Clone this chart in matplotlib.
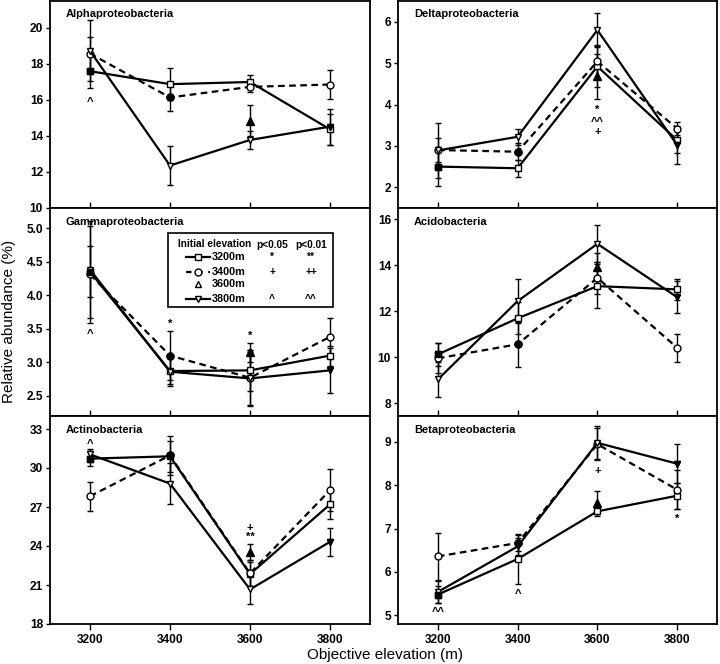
import matplotlib
matplotlib.use("Agg")
import matplotlib.pyplot as plt
from matplotlib.patches import Rectangle

plt.rcParams["font.family"] = ["Liberation Sans", "DejaVu Sans"]

elev = [3200, 3400, 3600, 3800]

# mean / error per panel; series are by initial elevation
alpha_3200 = [17.6, 16.88, 17.0, 14.37]
alpha_3200_err = [0.95, 0.9, 0.4, 0.85]
alpha_3400 = [18.58, 16.14, 16.73, 16.86]
alpha_3400_err = [0.9, 0.75, 0.3, 0.8]
alpha_3600 = 14.85
alpha_3600_err = 0.85
alpha_3800 = [18.73, 12.36, 13.78, 14.52]
alpha_3800_err = [1.7, 1.1, 0.5, 1.0]

delta_3200 = [2.5, 2.46, 4.92, 3.14]
delta_3200_err = [0.48, 0.2, 0.5, 0.3]
delta_3400 = [2.9, 2.86, 5.04, 3.42]
delta_3400_err = [0.3, 0.2, 0.4, 0.15]
delta_3600 = 4.68
delta_3600_err = 0.55
delta_3800 = [2.89, 3.22, 5.8, 3.02]
delta_3800_err = [0.67, 0.2, 0.42, 0.45]

gamma_3200 = [4.35, 2.87, 2.88, 3.10]
gamma_3200_err = [0.38, 0.2, 0.3, 0.15]
gamma_3400 = [4.31, 3.10, 2.77, 3.38]
gamma_3400_err = [0.72, 0.36, 0.42, 0.28]
gamma_3600 = 3.15
gamma_3600_err = 0.14
gamma_3800 = [4.38, 2.86, 2.76, 2.88]
gamma_3800_err = [0.72, 0.22, 0.4, 0.34]

acido_3200 = [10.13, 11.7, 13.1, 12.96]
acido_3200_err = [0.5, 0.7, 0.95, 0.45]
acido_3400 = [9.96, 10.57, 13.46, 10.42]
acido_3400_err = [0.65, 0.97, 0.7, 0.6]
acido_3600 = 13.94
acido_3600_err = 0.6
acido_3800 = [9.04, 12.45, 14.94, 12.62]
acido_3800_err = [0.75, 0.97, 0.8, 0.7]

actino_3200 = [30.72, 30.9, 21.84, 27.2]
actino_3200_err = [0.6, 1.2, 0.9, 1.1]
actino_3400 = [27.83, 30.97, 21.9, 28.29]
actino_3400_err = [1.1, 1.5, 1.0, 1.6]
actino_3600 = 23.55
actino_3600_err = 0.6
actino_3800 = [31.05, 28.8, 20.66, 24.32]
actino_3800_err = [0.4, 1.6, 1.1, 1.1]

beta_3200 = [5.48, 6.3, 7.4, 7.76]
beta_3200_err = [0.2, 0.58, 0.1, 0.3]
beta_3400 = [6.36, 6.67, 8.95, 7.9]
beta_3400_err = [0.55, 0.18, 0.37, 0.45]
beta_3600 = 7.6
beta_3600_err = 0.27
beta_3800 = [5.54, 6.59, 8.98, 8.5]
beta_3800_err = [0.25, 0.2, 0.38, 0.45]

# significance marks (x, y, text)
alpha_sig = [(3200, 15.9, "^")]
delta_sig = [(3600, 3.86, "*"), (3600, 3.58, "^^"), (3600, 3.34, "+")]
gamma_sig = [(3200, 3.42, "^"), (3400, 3.58, "*"), (3600, 3.40, "*")]
acido_sig = []
actino_sig = [(3200, 31.85, "^"), (3600, 25.4, "+"), (3600, 24.7, "**")]
beta_sig = [(3200, 5.07, "^^"), (3400, 5.5, "^"), (3600, 8.33, "+"), (3800, 7.22, "*")]

names = ["Alphaproteobacteria", "Deltaproteobacteria", "Gammaproteobacteria",
         "Acidobacteria", "Actinobacteria", "Betaproteobacteria"]
ylims = [(10, 21.5), (1.5, 6.5), (2.2, 5.3), (7.45, 16.5), (18, 34), (4.8, 9.6)]
yticks = [[10, 12, 14, 16, 18, 20], [2, 3, 4, 5, 6], [2.5, 3.0, 3.5, 4.0, 4.5, 5.0],
          [8, 10, 12, 14, 16], [18, 21, 24, 27, 30, 33], [5, 6, 7, 8, 9]]

panels = [
    (alpha_3200, alpha_3200_err, alpha_3400, alpha_3400_err, alpha_3600, alpha_3600_err, alpha_3800, alpha_3800_err, alpha_sig),
    (delta_3200, delta_3200_err, delta_3400, delta_3400_err, delta_3600, delta_3600_err, delta_3800, delta_3800_err, delta_sig),
    (gamma_3200, gamma_3200_err, gamma_3400, gamma_3400_err, gamma_3600, gamma_3600_err, gamma_3800, gamma_3800_err, gamma_sig),
    (acido_3200, acido_3200_err, acido_3400, acido_3400_err, acido_3600, acido_3600_err, acido_3800, acido_3800_err, acido_sig),
    (actino_3200, actino_3200_err, actino_3400, actino_3400_err, actino_3600, actino_3600_err, actino_3800, actino_3800_err, actino_sig),
    (beta_3200, beta_3200_err, beta_3400, beta_3400_err, beta_3600, beta_3600_err, beta_3800, beta_3800_err, beta_sig),
]

LW = 1.6
MS = 5


def series(ax, y, err, marker, ls, home):
    ax.errorbar(elev, y, yerr=err, fmt="none", ecolor="black", elinewidth=1,
                capsize=2.5, capthick=1, zorder=2)
    ax.plot(elev, y, color="black", lw=LW, ls=ls, marker=marker, ms=MS,
            mfc="white", mec="black", mew=1, zorder=3)
    i = elev.index(home)
    ax.plot([elev[i]], [y[i]], marker=marker, ms=MS, mfc="black", mec="black",
            ls="none", zorder=4)


def draw_legend(ax):
    t = ax.transAxes
    ax.add_patch(Rectangle((0.369, 0.524), 0.515, 0.356, transform=t, fill=False,
                           lw=1.2, ec="black", zorder=10))
    fs = 7.3
    ax.text(0.40, 0.827, "Initial elevation", transform=t, fontsize=fs, weight="bold", va="center", zorder=11)
    ax.text(0.694, 0.822, "p<0.05", transform=t, fontsize=fs, weight="bold", va="center", ha="center", zorder=11)
    ax.text(0.816, 0.822, "p<0.01", transform=t, fontsize=fs, weight="bold", va="center", ha="center", zorder=11)
    rows = [(0.764, "s", "-", "3200m", "*", "**"),
            (0.692, "o", (0, (2.5, 2.5)), "3400m", "+", "++"),
            (0.635, "^", "none", "3600m", "", ""),
            (0.5625, "v", "-", "3800m", "^", "^^")]
    for y, m, ls, lab, s1, s2 in rows:
        if ls != "none":
            ax.plot([0.425, 0.5], [y, y], transform=t, color="black", lw=LW, ls=ls,
                    clip_on=False, zorder=11)
        ax.plot([0.4625], [y], transform=t, marker=m, ms=MS, mfc="white", mec="black",
                mew=1, ls="none", clip_on=False, zorder=12)
        ax.text(0.506, y, lab, transform=t, fontsize=fs + 0.5, weight="bold", va="center", zorder=11)
        ax.text(0.694, y, s1, transform=t, fontsize=fs, weight="bold", va="center", ha="center", zorder=11)
        ax.text(0.816, y, s2, transform=t, fontsize=fs, weight="bold", va="center", ha="center", zorder=11)


fig = plt.figure(figsize=(7.2, 6.64), dpi=100)

lefts = [50 / 720, 398 / 720]
widths = [320 / 720, 319 / 720]
bottoms = [1 - 208 / 664, 1 - 416 / 664, 1 - 624 / 664]
heights = [207 / 664, 208 / 664, 208 / 664]

for k in range(6):
    row, col = k // 2, k % 2
    ax = fig.add_axes([lefts[col], bottoms[row], widths[col], heights[row]])
    s32, e32, s34, e34, s36, e36, s38, e38, sig = panels[k]

    series(ax, s32, e32, "s", "-", 3200)
    series(ax, s34, e34, "o", (0, (3, 2)), 3400)
    ax.errorbar([3600], [s36], yerr=[e36], fmt="none", ecolor="black", elinewidth=1,
                capsize=2.5, capthick=1, zorder=2)
    ax.plot([3600], [s36], marker="^", ms=MS + 0.5, mfc="black", mec="black", ls="none", zorder=4)
    series(ax, s38, e38, "v", "-", 3800)

    for x, y, txt in sig:
        ax.text(x, y, txt, fontsize=8, weight="bold", ha="center", va="center")

    ax.set_xlim(3100, 3900)
    ax.set_ylim(*ylims[k])
    ax.set_xticks(elev)
    ax.set_yticks(yticks[k])
    if k == 2:
        ax.set_yticklabels(["%.1f" % v for v in yticks[k]])
    for sp in ax.spines.values():
        sp.set_linewidth(1.3)
    ax.tick_params(axis="y", direction="out", length=3, width=1, labelsize=8.6, pad=2)
    if row == 2:
        ax.tick_params(axis="x", direction="out", length=4, width=1, labelsize=8.6, pad=3)
    else:
        ax.tick_params(axis="x", direction="in", length=4, width=1, labelbottom=False)
    for lab in ax.get_xticklabels() + ax.get_yticklabels():
        lab.set_fontweight("bold")

    ax.text(0.05, 0.935, names[k], transform=ax.transAxes, fontsize=8, weight="bold", va="center")

    if k == 2:
        draw_legend(ax)

fig.text(0.0125, 0.516, "Relative abundance (%)", rotation=90, fontsize=11, ha="center", va="center")
fig.text(0.535, 0.0136, "Objective elevation (m)", fontsize=11, ha="center", va="center")

plt.savefig("out.png", dpi=100)
